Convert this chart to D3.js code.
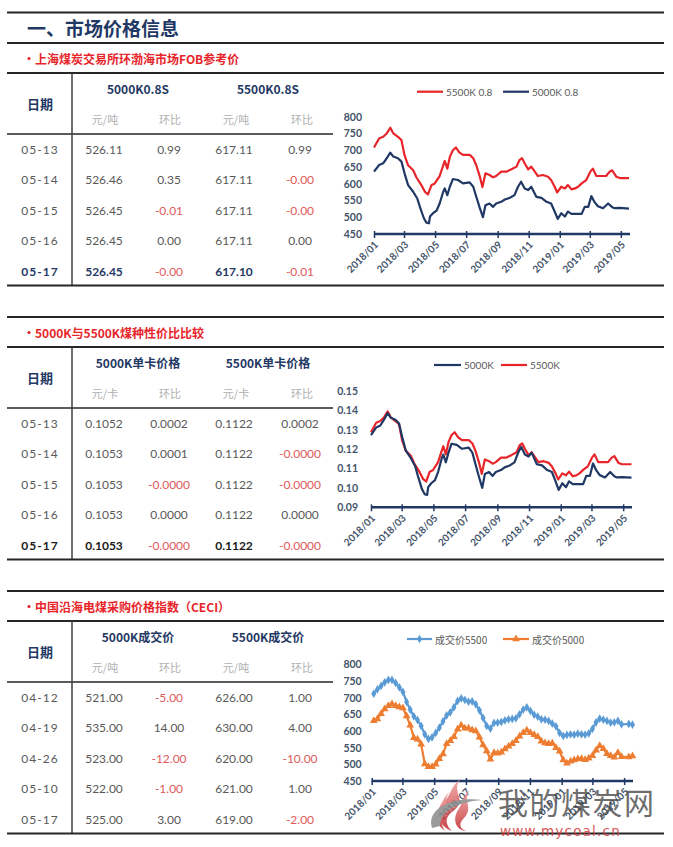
<!DOCTYPE html>
<html><head><meta charset="utf-8">
<script src="https://cdn.jsdelivr.net/npm/d3@7"></script>
<style>body{margin:0;background:#fff}</style>
</head><body><svg id="c" width="673" height="847"></svg>
<script>
// ---------- table data ----------
const t1Dates = ["05-13","05-14","05-15","05-16","05-17"];
const t1P5000 = ["526.11","526.46","526.45","526.45","526.45"];
const t1C5000 = ["0.99","0.35","-0.01","0.00","-0.00"];
const t1P5500 = ["617.11","617.11","617.11","617.11","617.10"];
const t1C5500 = ["0.99","-0.00","-0.00","0.00","-0.01"];

const t2Dates = ["05-13","05-14","05-15","05-16","05-17"];
const t2P5000 = ["0.1052","0.1053","0.1053","0.1053","0.1053"];
const t2C5000 = ["0.0002","0.0001","-0.0000","0.0000","-0.0000"];
const t2P5500 = ["0.1122","0.1122","0.1122","0.1122","0.1122"];
const t2C5500 = ["0.0002","-0.0000","-0.0000","0.0000","-0.0000"];

const t3Dates = ["04-12","04-19","04-26","05-10","05-17"];
const t3P5000 = ["521.00","535.00","523.00","522.00","525.00"];
const t3C5000 = ["-5.00","14.00","-12.00","-1.00","3.00"];
const t3P5500 = ["626.00","630.00","620.00","621.00","619.00"];
const t3C5500 = ["1.00","4.00","-10.00","1.00","-2.00"];

// ---------- chart 1 & 2 data (FOB price, price per kcal) ----------
const fob55Dates = ["2018-01-01","2018-01-11","2018-01-19","2018-01-26","2018-02-02","2018-02-08","2018-02-17","2018-02-24","2018-03-02","2018-03-09","2018-03-19","2018-03-25","2018-04-04","2018-04-11","2018-04-17","2018-04-24","2018-04-30","2018-05-10","2018-05-17","2018-05-20","2018-05-25","2018-05-30","2018-06-05","2018-06-11","2018-06-18","2018-06-25","2018-07-08","2018-07-15","2018-07-21","2018-07-28","2018-08-02","2018-08-08","2018-08-16","2018-08-23","2018-08-29","2018-09-08","2018-09-18","2018-09-28","2018-10-08","2018-10-14","2018-10-19","2018-10-24","2018-10-31","2018-11-06","2018-11-13","2018-11-19","2018-11-29","2018-12-09","2018-12-15","2018-12-22","2018-12-27","2019-01-04","2019-01-11","2019-01-17","2019-01-24","2019-01-31","2019-02-06","2019-02-13","2019-02-22","2019-03-02","2019-03-07","2019-03-14","2019-03-24","2019-04-02","2019-04-09","2019-04-14","2019-04-22","2019-04-29","2019-05-17"];
const fob55Vals = [708,735,740,750,767,750,740,730,685,655,640,620,596,576,568,596,600,623,655,668,645,680,700,708,693,686,686,676,655,621,590,631,626,619,623,636,636,643,651,671,676,661,643,651,636,623,626,621,611,591,574,591,586,596,583,586,591,601,611,636,645,623,623,623,636,640,621,617,617];
const fob50Dates = ["2018-01-01","2018-01-11","2018-01-19","2018-01-26","2018-02-02","2018-02-08","2018-02-17","2018-02-24","2018-03-02","2018-03-09","2018-03-19","2018-03-27","2018-04-02","2018-04-09","2018-04-14","2018-04-19","2018-04-21","2018-04-27","2018-05-04","2018-05-10","2018-05-17","2018-05-20","2018-05-25","2018-05-30","2018-06-05","2018-06-15","2018-06-25","2018-07-08","2018-07-15","2018-07-21","2018-07-28","2018-08-03","2018-08-08","2018-08-16","2018-08-23","2018-08-29","2018-09-08","2018-09-15","2018-09-25","2018-10-04","2018-10-11","2018-10-17","2018-10-24","2018-10-31","2018-11-06","2018-11-16","2018-11-26","2018-12-06","2018-12-15","2018-12-22","2018-12-28","2019-01-04","2019-01-11","2019-01-17","2019-01-24","2019-02-03","2019-02-13","2019-02-19","2019-02-26","2019-03-04","2019-03-10","2019-03-17","2019-03-27","2019-04-06","2019-04-14","2019-04-19","2019-04-29","2019-05-17"];
const fob50Vals = [636,656,661,676,693,681,676,666,631,596,576,556,527,497,484,482,502,512,520,541,576,586,566,591,614,611,601,604,591,561,527,500,536,541,531,541,546,553,558,566,591,606,586,581,591,561,558,546,541,517,495,512,502,517,510,510,510,531,531,563,546,533,527,541,530,527,528,526];
const kcal55Vals = [0.1287,0.1336,0.1345,0.1364,0.1395,0.1364,0.1345,0.1327,0.1245,0.1191,0.1164,0.1127,0.1084,0.1047,0.1033,0.1084,0.1091,0.1133,0.1191,0.1215,0.1173,0.1236,0.1273,0.1287,0.1260,0.1247,0.1247,0.1229,0.1191,0.1129,0.1073,0.1147,0.1138,0.1125,0.1133,0.1156,0.1156,0.1169,0.1184,0.1220,0.1229,0.1202,0.1169,0.1184,0.1156,0.1133,0.1138,0.1129,0.1111,0.1075,0.1044,0.1075,0.1065,0.1084,0.1060,0.1065,0.1075,0.1093,0.1111,0.1156,0.1173,0.1133,0.1133,0.1133,0.1156,0.1164,0.1129,0.1122,0.1122];
const kcal50Vals = [0.1272,0.1312,0.1322,0.1352,0.1386,0.1362,0.1352,0.1332,0.1262,0.1192,0.1152,0.1112,0.1054,0.0994,0.0968,0.0964,0.1004,0.1024,0.1040,0.1082,0.1152,0.1172,0.1132,0.1182,0.1228,0.1222,0.1202,0.1208,0.1182,0.1122,0.1054,0.1000,0.1072,0.1082,0.1062,0.1082,0.1092,0.1106,0.1116,0.1132,0.1182,0.1212,0.1172,0.1162,0.1182,0.1122,0.1116,0.1092,0.1082,0.1034,0.0990,0.1024,0.1004,0.1034,0.1020,0.1020,0.1020,0.1062,0.1062,0.1126,0.1092,0.1066,0.1054,0.1082,0.1060,0.1054,0.1056,0.1053];

// ---------- chart 3 data (CECI weekly) ----------
const ceciDates = ["2018-01-05","2018-01-12","2018-01-19","2018-01-26","2018-02-02","2018-02-09","2018-02-16","2018-02-23","2018-03-02","2018-03-09","2018-03-16","2018-03-23","2018-03-30","2018-04-06","2018-04-13","2018-04-20","2018-04-27","2018-05-04","2018-05-11","2018-05-18","2018-05-25","2018-06-01","2018-06-08","2018-06-15","2018-06-22","2018-06-29","2018-07-06","2018-07-13","2018-07-20","2018-07-27","2018-08-03","2018-08-10","2018-08-17","2018-08-24","2018-08-31","2018-09-07","2018-09-14","2018-09-21","2018-09-28","2018-10-05","2018-10-12","2018-10-19","2018-10-26","2018-11-02","2018-11-09","2018-11-16","2018-11-23","2018-11-30","2018-12-07","2018-12-14","2018-12-21","2018-12-28","2019-01-04","2019-01-11","2019-01-18","2019-01-25","2019-02-01","2019-02-08","2019-02-15","2019-02-22","2019-03-01","2019-03-08","2019-03-15","2019-03-22","2019-03-29","2019-04-05","2019-04-12","2019-04-19","2019-04-26","2019-05-10","2019-05-17"];
const ceci5500 = [712,725,735,746,753,753,744,731,717,687,664,644,633,615,590,576,581,594,610,629,647,656,671,690,698,693,688,689,680,662,639,615,607,624,625,627,632,635,636,638,650,664,671,660,649,643,635,634,630,622,614,594,585,588,590,589,592,590,589,593,606,626,637,634,630,625,626,630,620,621,619];
const ceci5000 = [631,636,652,666,676,681,676,672,669,645,617,580,575,560,501,493,493,500,517,531,562,571,583,605,617,608,608,603,600,581,558,540,515,535,533,536,546,554,562,571,584,595,602,595,589,583,569,564,562,563,550,539,513,503,509,513,516,517,514,518,526,542,556,547,532,526,521,535,523,522,525];

// ---------- axis ticks ----------
const xTickLabels = ["2018/01","2018/03","2018/05","2018/07","2018/09","2018/11","2019/01","2019/03","2019/05"];
const yTicksPrice = [450,500,550,600,650,700,750,800];
const yTicksKcal = [0.09,0.10,0.11,0.12,0.13,0.14,0.15];

// ---------- drawing ----------
const svg = d3.select("#c");
const NAVY = "#1f3864", RED = "#e8252a", TXT = "#595959", NEG = "#e05a5a", AX = "#44546a";
const NUMF = "Lato, 'Noto Sans CJK SC', sans-serif";
const CJK = "'Noto Sans CJK SC', 'Noto Sans', sans-serif";
const parseD = d3.timeParse("%Y-%m-%d");
const parseM = d3.timeParse("%Y/%m");

function hline(y, x1, x2, w, c) {
  svg.append("line").attr("x1", x1).attr("x2", x2).attr("y1", y).attr("y2", y)
    .attr("stroke", c || "#262626").attr("stroke-width", w);
}
function txt(x, y, s, o) {
  o = o || {};
  return svg.append("text").attr("x", x).attr("y", y).text(s)
    .attr("text-anchor", o.anchor || "middle").attr("dominant-baseline", "central")
    .attr("font-family", o.font || NUMF).attr("font-size", o.size || 12)
    .attr("font-weight", o.weight || "normal").attr("fill", o.fill || TXT)
    .attr("letter-spacing", o.ls || 0);
}

// page title
hline(12.5, 7, 664, 2);
txt(27, 27.5, "一、市场价格信息", {anchor: "start", font: CJK, size: 19, weight: "bold", fill: NAVY});
hline(43, 7, 664, 2);

function section(cfg) {
  const T = cfg.top;
  if (cfg.sepY) hline(cfg.sepY, 7, 664, 2);
  svg.append("circle").attr("cx", 29).attr("cy", T - 14.5).attr("r", 1.6).attr("fill", RED);
  txt(35, T - 14.5, cfg.sub, {anchor: "start", font: CJK, size: 12, weight: "bold", fill: RED});
  hline(T, 7, 664, 2);
  txt(40, T + 30, "日期", {font: CJK, size: 13, weight: "bold", fill: NAVY});
  txt(138, T + 15, cfg.h1, {font: CJK, size: 12, weight: "bold", fill: NAVY});
  txt(268, T + 15, cfg.h2, {font: CJK, size: 12, weight: "bold", fill: NAVY});
  [[105, cfg.unit], [170, "环比"], [236, cfg.unit], [302, "环比"]].forEach(d =>
    txt(d[0], T + 45.5, d[1], {font: CJK, size: 11, fill: "#b0b0b0"}));
  hline(T + 61, 7, 333, 1.5);
  svg.append("line").attr("x1", 72).attr("x2", 72).attr("y1", T).attr("y2", T + 212.5)
    .attr("stroke", "#404040").attr("stroke-width", 1.5);
  cfg.dates.forEach((d, i) => {
    const y = T + 76.5 + i * 30.4;
    const last = i === cfg.dates.length - 1 && cfg.lastBold;
    const base = last ? cfg.lastColor : TXT;
    const w = last ? "bold" : "normal";
    txt(40, y, d, {fill: base, weight: w, ls: 1});
    const cols = [[104, cfg.p1[i], false], [169, cfg.c1[i], true], [234, cfg.p2[i], false], [300, cfg.c2[i], true]];
    cols.forEach(c => {
      const neg = c[2] && c[1].startsWith("-");
      txt(c[0], y, c[1], {fill: neg ? NEG : base, weight: (last && !neg) ? "bold" : "normal"});
    });
  });
  hline(T + 212.5, 7, 664, 2);
}

section({top: 73, sub: "上海煤炭交易所环渤海市场FOB参考价", h1: "5000K0.8S", h2: "5500K0.8S", unit: "元/吨",
  dates: t1Dates, p1: t1P5000, c1: t1C5000, p2: t1P5500, c2: t1C5500, lastBold: true, lastColor: NAVY});
section({sepY: 317, top: 347, sub: "5000K与5500K煤种性价比比较", h1: "5000K单卡价格", h2: "5500K单卡价格", unit: "元/卡",
  dates: t2Dates, p1: t2P5000, c1: t2C5000, p2: t2P5500, c2: t2C5500, lastBold: true, lastColor: "#1a1a1a"});
section({sepY: 591, top: 621, sub: "中国沿海电煤采购价格指数（CECI）", h1: "5000K成交价", h2: "5500K成交价", unit: "元/吨",
  dates: t3Dates, p1: t3P5000, c1: t3C5000, p2: t3P5500, c2: t3C5500, lastBold: false});

// ---------- line charts ----------
function chart(cfg) {
  const x = d3.scaleTime().domain([parseD("2018-01-01"), parseD(cfg.end)]).range([cfg.x0, cfg.x1]);
  const y = d3.scaleLinear().domain(d3.extent(cfg.yTicks)).range([cfg.yBottom, cfg.yTop]);
  const g = svg.append("g");
  const ya = d3.axisLeft(y).tickValues(cfg.yTicks).tickSize(0).tickPadding(cfg.pad).tickFormat(cfg.yFmt);
  const yg = g.append("g").attr("transform", `translate(${cfg.x0},0)`).call(ya);
  yg.select(".domain").remove();
  yg.selectAll("text").attr("font-family", NUMF).attr("font-size", 10.5).attr("font-weight", "bold").attr("fill", AX);
  const xa = d3.axisBottom(x).tickValues(xTickLabels.map(parseM)).tickSize(4).tickFormat(d3.timeFormat("%Y/%m"));
  const xg = g.append("g").attr("transform", `translate(0,${cfg.yBottom})`).call(xa);
  xg.select(".domain").remove();
  xg.selectAll(".tick line").attr("stroke", NAVY).attr("stroke-width", 1.5).attr("y1", -3);
  xg.selectAll("text").attr("font-family", NUMF).attr("font-size", 10).attr("font-weight", "bold").attr("fill", AX)
    .attr("text-anchor", "end").attr("dy", "0.35em").attr("y", 0).attr("transform", "translate(2,9) rotate(-45)");
  g.append("line").attr("x1", cfg.x0).attr("x2", cfg.x1).attr("y1", cfg.yBottom).attr("y2", cfg.yBottom)
    .attr("stroke", NAVY).attr("stroke-width", 2.5);
  cfg.series.forEach(s => {
    const pts = s.dates.map((d, i) => [parseD(d), s.vals[i]]);
    g.append("path").datum(pts).attr("fill", "none").attr("stroke", s.color).attr("stroke-width", 2.2)
      .attr("stroke-linejoin", "round")
      .attr("d", d3.line().x(p => x(p[0])).y(p => y(p[1])));
    if (s.symbol) {
      const sym = d3.symbol().type(s.symbol).size(s.size);
      g.selectAll(null).data(pts).enter().append("path").attr("d", sym)
        .attr("transform", p => `translate(${x(p[0])},${y(p[1])})`).attr("fill", s.color);
    }
  });
  cfg.legend.forEach(l => {
    g.append("line").attr("x1", l.x).attr("x2", l.x + l.w).attr("y1", cfg.legY).attr("y2", cfg.legY)
      .attr("stroke", l.color).attr("stroke-width", 2.2);
    if (l.symbol) g.append("path").attr("d", d3.symbol().type(l.symbol).size(l.size)())
      .attr("transform", `translate(${l.x + l.w / 2},${cfg.legY})`).attr("fill", l.color);
    txt(l.x + l.w + 3, cfg.legY, l.label, {anchor: "start", size: 10, fill: TXT, font: l.cjk ? CJK : NUMF});
  });
}

chart({x0: 374, x1: 630, yTop: 116.7, yBottom: 234, end: "2019-05-19", yTicks: yTicksPrice, pad: 12, yFmt: d3.format("d"),
  legY: 91.7,
  series: [{dates: fob55Dates, vals: fob55Vals, color: RED}, {dates: fob50Dates, vals: fob50Vals, color: NAVY}],
  legend: [{x: 417, w: 26, color: RED, label: "5500K 0.8"}, {x: 503, w: 26, color: NAVY, label: "5000K 0.8"}]});

chart({x0: 371, x1: 632, yTop: 391, yBottom: 507.3, end: "2019-05-18", yTicks: yTicksKcal, pad: 13, yFmt: d3.format(".2f"),
  legY: 365,
  series: [{dates: fob55Dates, vals: kcal55Vals, color: RED}, {dates: fob50Dates, vals: kcal50Vals, color: NAVY}],
  legend: [{x: 434, w: 27, color: NAVY, label: "5000K"}, {x: 501, w: 26, color: RED, label: "5500K"}]});

chart({x0: 371.7, x1: 633, yTop: 664.3, yBottom: 781, end: "2019-05-18", yTicks: yTicksPrice, pad: 10, yFmt: d3.format("d"),
  legY: 639,
  series: [{dates: ceciDates, vals: ceci5500, color: "#5b9bd5", symbol: d3.symbolDiamond, size: 22},
           {dates: ceciDates, vals: ceci5000, color: "#ed7d31", symbol: d3.symbolTriangle, size: 26}],
  legend: [{x: 407, w: 25, color: "#5b9bd5", symbol: d3.symbolDiamond, size: 22, label: "成交价5500", cjk: true},
           {x: 503, w: 26, color: "#ed7d31", symbol: d3.symbolTriangle, size: 26, label: "成交价5000", cjk: true}]});

// ---------- watermark ----------
const wm = svg.append("g").attr("opacity", 0.85);
const grad = svg.append("defs").append("linearGradient").attr("id", "fl").attr("x1", 0).attr("y1", 0).attr("x2", 0).attr("y2", 1);
grad.append("stop").attr("offset", 0).attr("stop-color", "#f2a0a0");
grad.append("stop").attr("offset", 1).attr("stop-color", "#c0282b");
wm.append("path").attr("d", "M462,778 C448,790 470,800 452,812 C444,818 446,826 452,831 C438,826 434,812 444,802 C452,794 450,786 462,778 Z").attr("fill", "url(#fl)");
wm.append("path").attr("d", "M470,790 C462,800 474,808 464,818 C458,824 460,829 466,831 C456,830 452,820 458,810 C464,802 462,796 470,790 Z").attr("fill", "url(#fl)");
wm.append("path").attr("d", "M450,792 C442,800 450,808 444,816 C440,822 442,828 446,831 C436,826 434,816 440,806 C444,800 444,796 450,792 Z").attr("fill", "url(#fl)");
wm.append("path").attr("d", "M432,828 C426,810 450,796 482,800 C456,802 440,812 440,826 Z").attr("fill", "#8a8a8a");
txt(498, 801, "我的煤炭网", {anchor: "start", font: CJK, size: 30, fill: "#4a4a4a", ls: 1.5}).attr("opacity", 0.8);
txt(500, 830.5, "www.mycoal.cn", {anchor: "start", font: "'DejaVu Sans', sans-serif", size: 13.5, fill: "#d33a3a", ls: 1.2}).attr("opacity", 0.85);
</script></body></html>
